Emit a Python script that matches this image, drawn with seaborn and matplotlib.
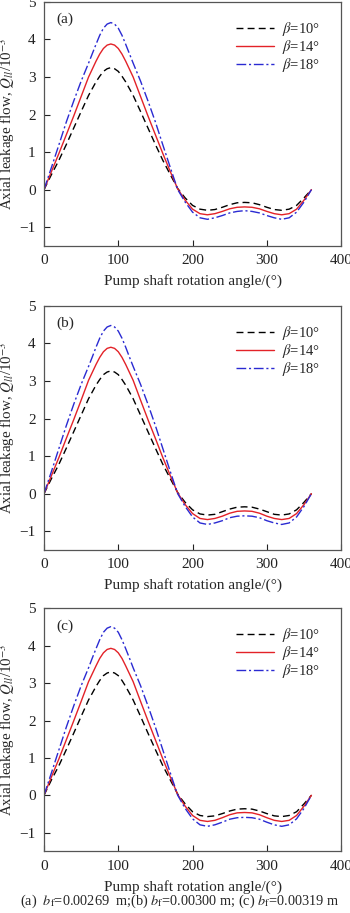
import numpy as np
import pandas as pd
import seaborn as sns
import matplotlib
matplotlib.use('Agg')
import matplotlib.pyplot as plt

# shaft angle, degrees (finer around the peak)
theta = [0, 10, 20, 30, 40, 50, 60, 65, 70, 75, 80, 85, 90, 95, 100, 105, 110, 115, 120, 130, 140, 150, 160,
         170, 180, 190, 200, 210, 220, 230, 240, 250, 260, 270, 280, 290, 300, 310, 320, 330, 340, 350, 360]

# panel (a)
a10 = [0.00, 0.40, 0.78, 1.20, 1.64, 2.08, 2.51, 2.69, 2.87, 3.02, 3.15, 3.22, 3.25, 3.22, 3.15, 3.02, 2.87, 2.69,
       2.51, 2.08, 1.64, 1.20, 0.78, 0.40, 0.03,
       -0.22, -0.42, -0.52, -0.55, -0.53, -0.47, -0.40, -0.35, -0.34, -0.35, -0.40, -0.47, -0.53, -0.55, -0.52,
       -0.42, -0.22, 0.00]
a14 = [0.00, 0.48, 0.96, 1.46, 1.96, 2.48, 3.00, 3.21, 3.42, 3.61, 3.76, 3.85, 3.88, 3.85, 3.76, 3.61, 3.42, 3.21,
       3.00, 2.48, 1.96, 1.46, 0.96, 0.48, 0.02,
       -0.28, -0.52, -0.64, -0.67, -0.64, -0.58, -0.51, -0.47, -0.46, -0.47, -0.51, -0.58, -0.64, -0.67, -0.64,
       -0.52, -0.28, 0.00]
a18 = [0.00, 0.59, 1.19, 1.80, 2.36, 2.89, 3.37, 3.62, 3.87, 4.11, 4.30, 4.41, 4.45, 4.41, 4.30, 4.11, 3.87, 3.62,
       3.37, 2.89, 2.36, 1.80, 1.19, 0.59, 0.00,
       -0.33, -0.60, -0.75, -0.79, -0.75, -0.69, -0.62, -0.58, -0.56, -0.58, -0.62, -0.69, -0.75, -0.79, -0.75,
       -0.60, -0.33, 0.00]

# panel (b)
b10 = [0.00, 0.40, 0.78, 1.21, 1.65, 2.09, 2.53, 2.71, 2.89, 3.04, 3.17, 3.24, 3.27, 3.24, 3.17, 3.04, 2.89, 2.71,
       2.53, 2.09, 1.65, 1.21, 0.78, 0.40, 0.03,
       -0.23, -0.43, -0.54, -0.57, -0.55, -0.48, -0.41, -0.36, -0.35, -0.36, -0.41, -0.48, -0.55, -0.57, -0.54,
       -0.43, -0.23, 0.00]
b14 = [0.00, 0.48, 0.96, 1.47, 1.97, 2.49, 3.02, 3.23, 3.44, 3.63, 3.78, 3.87, 3.90, 3.87, 3.78, 3.63, 3.44, 3.23,
       3.02, 2.49, 1.97, 1.47, 0.96, 0.48, 0.02,
       -0.29, -0.53, -0.66, -0.69, -0.66, -0.60, -0.52, -0.47, -0.46, -0.47, -0.52, -0.60, -0.66, -0.69, -0.66,
       -0.53, -0.29, 0.00]
b18 = [0.00, 0.59, 1.20, 1.81, 2.38, 2.91, 3.39, 3.64, 3.90, 4.14, 4.33, 4.44, 4.48, 4.44, 4.33, 4.14, 3.90, 3.64,
       3.39, 2.91, 2.38, 1.81, 1.20, 0.59, 0.00,
       -0.34, -0.62, -0.78, -0.82, -0.78, -0.72, -0.64, -0.60, -0.59, -0.60, -0.64, -0.72, -0.78, -0.82, -0.78,
       -0.62, -0.34, 0.00]

# panel (c)
c10 = [0.00, 0.41, 0.79, 1.22, 1.66, 2.11, 2.55, 2.73, 2.91, 3.07, 3.20, 3.27, 3.30, 3.27, 3.20, 3.07, 2.91, 2.73,
       2.55, 2.11, 1.66, 1.22, 0.79, 0.41, 0.03,
       -0.23, -0.44, -0.54, -0.57, -0.55, -0.49, -0.42, -0.37, -0.36, -0.37, -0.42, -0.49, -0.55, -0.57, -0.54,
       -0.44, -0.23, 0.00]
c14 = [0.00, 0.49, 0.97, 1.48, 1.99, 2.51, 3.04, 3.25, 3.46, 3.66, 3.81, 3.90, 3.93, 3.90, 3.81, 3.66, 3.46, 3.25,
       3.04, 2.51, 1.99, 1.48, 0.97, 0.49, 0.02,
       -0.29, -0.54, -0.67, -0.70, -0.67, -0.60, -0.52, -0.47, -0.46, -0.47, -0.52, -0.60, -0.67, -0.70, -0.67,
       -0.54, -0.29, 0.00]
c18 = [0.00, 0.60, 1.21, 1.82, 2.39, 2.93, 3.41, 3.67, 3.92, 4.16, 4.36, 4.47, 4.51, 4.47, 4.36, 4.16, 3.92, 3.67,
       3.41, 2.93, 2.39, 1.82, 1.21, 0.60, 0.00,
       -0.35, -0.63, -0.79, -0.83, -0.79, -0.72, -0.64, -0.60, -0.59, -0.60, -0.64, -0.72, -0.79, -0.83, -0.79,
       -0.63, -0.35, 0.00]

panels = ['(a)', '(b)', '(c)']
series = [[a10, a14, a18], [b10, b14, b18], [c10, c14, c18]]
beta_labels = [r'$\beta$=10°', r'$\beta$=14°', r'$\beta$=18°']
caption = r'(a)  $b_{\rm f}$=0.00269  m;(b) $b_{\rm f}$=0.00300 m; (c) $b_{\rm f}$=0.00319 m'

sns.set_theme(style='ticks')
plt.rcParams['font.family'] = ['Liberation Serif', 'DejaVu Serif']
plt.rcParams['mathtext.fontset'] = 'stix'

colors = ['black', '#e32228', '#2a2ad2']
styles = [(0, (5, 3)), '-', (0, (7, 2, 1.5, 2))]

fig = plt.figure(figsize=(3.5, 9.13), dpi=100)
boxes = [[0.1257, 0.7306, 0.849, 0.2673],
         [0.1257, 0.3976, 0.849, 0.2673],
         [0.1257, 0.0675, 0.849, 0.2662]]

for i in range(3):
    ax = fig.add_axes(boxes[i])
    for j in range(3):
        sns.lineplot(x=theta, y=series[i][j], ax=ax, color=colors[j], linestyle=styles[j],
                     linewidth=1.0, label=beta_labels[j])
    ax.set_xlim(0, 400)
    ax.set_ylim(-1.5, 5)
    ax.set_xticks([0, 100, 200, 300, 400])
    ax.set_yticks([-1, 0, 1, 2, 3, 4, 5])
    ax.set_yticklabels(['\u22121', '0', '1', '2', '3', '4', '5'])
    ax.tick_params(direction='in', length=4, width=0.8, labelsize=11, colors='#222222', pad=6)
    for sp in ax.spines.values():
        sp.set_color('#555555')
        sp.set_linewidth(0.9)
    ax.set_xlabel('Pump shaft rotation angle/(°)', fontsize=11, labelpad=5)
    ax.set_ylabel(r'Axial leakage flow, $\overline{Q}_{ll}$/10$^{-3}$', fontsize=10.8, labelpad=1)
    ax.text(0.04, 0.955, panels[i], transform=ax.transAxes, fontsize=11, va='top', ha='left')
    ax.legend(loc='upper right', bbox_to_anchor=(0.95, 0.95), frameon=False, fontsize=10.5,
              handlelength=2.6, handletextpad=0.6, labelspacing=0.0, borderaxespad=0)

fig.text(0.514, 0.013, caption, ha='center', va='center', fontsize=10.3)

fig.savefig('out.png', dpi=100, facecolor='white')
